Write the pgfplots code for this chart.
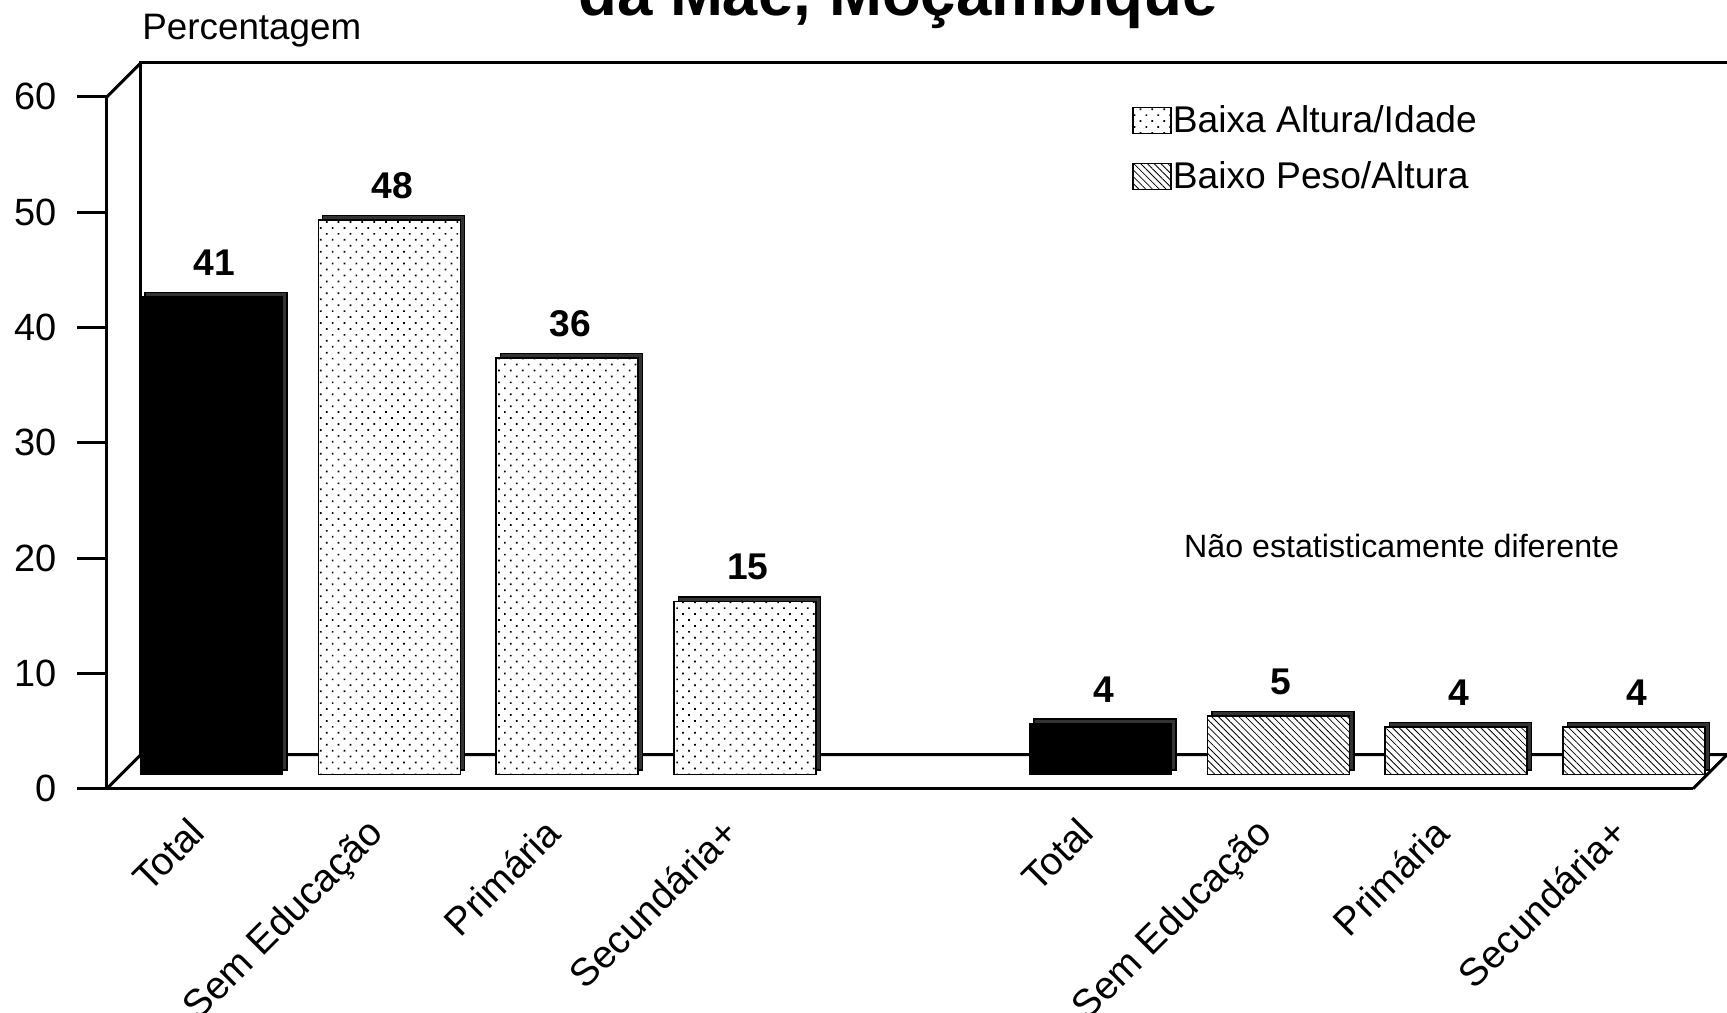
\documentclass[border=0pt]{standalone}
\usepackage{fontspec}
\setmainfont{Liberation Sans}
\usepackage{pgfplots}
\pgfplotsset{compat=1.18}
\usepackage{pgfplotstable}
\usetikzlibrary{patterns.meta}
\newcommand{\fs}[1]{\fontsize{#1}{#1}\selectfont}

\pgfplotstableread{
x y lab
0 41.4 41
5 4.4 4
}\totaldata
\pgfplotstableread{
x y lab
1 48.1 48
2 36.1 36
3 15.0 15
}\altdata
\pgfplotstableread{
x y lab
6 5.06 5
7 4.1 4
8 4.1 4
}\pesodata

\tikzset{
  dotpat/.style={fill=white, postaction={pattern={Dots[angle=45,distance=4.2pt,radius=0.6pt]}}},
  linepat/.style={fill=white, postaction={pattern={Lines[angle=-45,distance=2.4pt,line width=0.4pt]}}},
}

\begin{document}
\begin{tikzpicture}
\useasboundingbox (0,0) rectangle (863.5pt,506pt);
% 3D frame (floor and back wall)
\draw[line width=1.5pt] (53.4pt,111.7pt) -- (70.4pt,128.7pt) -- (890pt,128.7pt);
\draw[line width=1.5pt] (846.5pt,111.7pt) -- (863.5pt,128.7pt);
\draw[line width=1.5pt] (70.4pt,128.7pt) -- (70.4pt,474.55pt) -- (890pt,474.55pt);
\draw[line width=1.5pt] (53.4pt,457.55pt) -- (70.4pt,474.55pt);

\node[anchor=base west, inner sep=0pt, font=\fs{18.4}] at (71pt,486pt) {Percentagem};
\node[anchor=base, inner sep=0pt, font=\bfseries\fs{31.8}] at (449pt,498.3pt) {da Mãe, Moçambique};
\node[anchor=base, inner sep=0pt, font=\fs{16.1}] at (700.8pt,227pt) {Não estatisticamente diferente};

\begin{axis}[
  at={(53.4pt,111.7pt)}, anchor=south west,
  scale only axis, width=793.1pt, height=345.85pt,
  xmin=-0.508, xmax=8.413, ymin=0, ymax=60,
  clip=false,
  axis x line=bottom, axis y line=left,
  axis line style={-, line width=1.5pt},
  ytick={0,10,...,60},
  yticklabel style={font=\fs{19}, inner sep=0pt, xshift=-9.8pt},
  ytick style={line width=1.5pt, black},
  major tick length=15pt, tick align=outside,
  xtick={0,1,2,3,5,6,7,8},
  xticklabels={Total, Sem Educação, Primária, Secundária+, Total, Sem Educação, Primária, Secundária+},
  xtick style={draw=none},
  xticklabel style={font=\fs{19.4}, inner sep=0pt, xshift=-5pt, yshift=1.75pt, rotate=45, anchor=north east},
  /pgf/number format/assume math mode=true,
  legend style={at={(0.6463,0.9897)}, anchor=north west, draw=none, fill=none,
    inner sep=0pt, row sep=12pt, font=\fs{18.6}, nodes={inner sep=0.5pt}},
  legend cell align=left,
  every node near coord/.append style={font=\bfseries\fs{18.6}, anchor=center, yshift=17pt, xshift=1.5pt, text=black, fill=none, draw=none},
]
% side faces (3D depth)
\addplot[ybar, bar width=71pt, bar shift=0pt, xshift=9.4pt, yshift=9.4pt, fill=black!80, draw=black, line width=0.75pt, forget plot] table[x=x,y=y]{\totaldata};
\addplot[ybar, bar width=71pt, bar shift=0pt, xshift=9.4pt, yshift=9.4pt, fill=black!80, draw=black, line width=0.75pt, forget plot] table[x=x,y=y]{\altdata};
\addplot[ybar, bar width=71pt, bar shift=0pt, xshift=9.4pt, yshift=9.4pt, fill=black!80, draw=black, line width=0.75pt, forget plot] table[x=x,y=y]{\pesodata};
% front faces
\addplot[ybar, bar width=71pt, bar shift=0pt, xshift=7.16pt, yshift=7.16pt, fill=black, draw=black, line width=0.75pt, forget plot,
  nodes near coords, point meta=explicit symbolic] table[x=x,y=y,meta=lab]{\totaldata};
\addplot[ybar, bar width=71pt, bar shift=0pt, xshift=7.16pt, yshift=7.16pt, dotpat, draw=black, line width=0.75pt, forget plot,
  nodes near coords, point meta=explicit symbolic] table[x=x,y=y,meta=lab]{\altdata};
\addplot[ybar, bar width=71pt, bar shift=0pt, xshift=7.16pt, yshift=7.16pt, linepat, draw=black, line width=0.75pt, forget plot,
  nodes near coords, point meta=explicit symbolic] table[x=x,y=y,meta=lab]{\pesodata};

\addlegendimage{legend image code/.code={\draw[dotpat, draw=black, line width=0.75pt] (0pt,-6.5pt) rectangle (19pt,6.5pt);}}
\addlegendentry{Baixa Altura/Idade}
\addlegendimage{legend image code/.code={\draw[linepat, draw=black, line width=0.75pt] (0pt,-6.5pt) rectangle (19pt,6.5pt);}}
\addlegendentry{Baixo Peso/Altura}
\end{axis}
\end{tikzpicture}
\end{document}
